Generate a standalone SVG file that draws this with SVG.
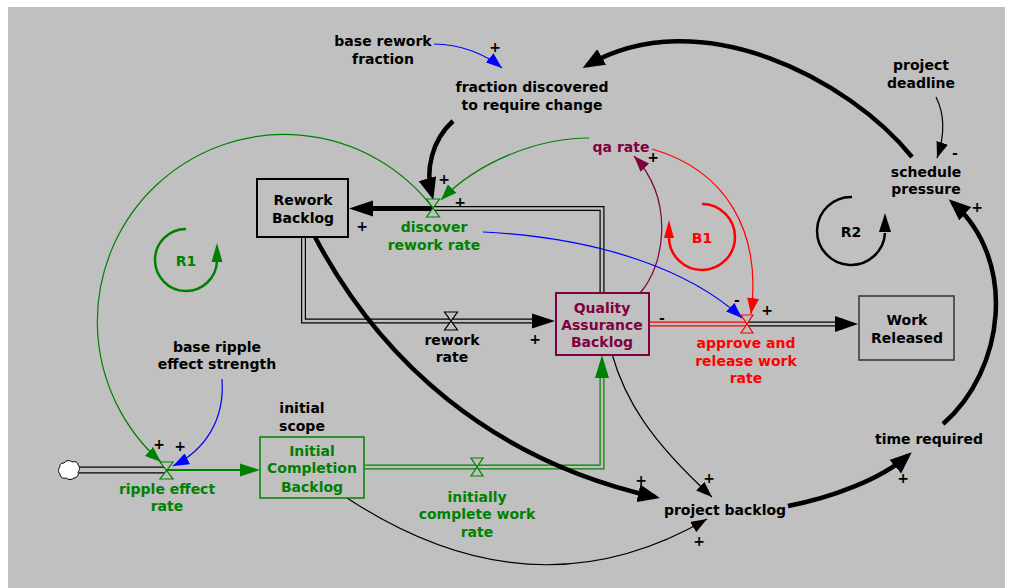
<svg xmlns="http://www.w3.org/2000/svg" width="1018" height="588" viewBox="0 0 1018 588">
<defs>
<style>
text{font-family:"DejaVu Sans",Verdana,sans-serif;font-size:14px;font-weight:bold;text-anchor:middle}
.k{fill:#000}
.g{fill:#008000}
.m{fill:#800040}
.r{fill:#ff0000}
.thin{fill:none;stroke-width:1.2}
.thick{fill:none;stroke:#000;stroke-width:4.5}
.po{fill:none;stroke:#000;stroke-width:5}
.pi{fill:none;stroke:#c0c0c0;stroke-width:2.6}
.valve{fill:#c0c0c0;stroke-width:1.2}
.box{fill:#c0c0c0}
.loop{fill:none;stroke-width:2.5}
</style>
<marker id="aK" markerUnits="userSpaceOnUse" markerWidth="22" markerHeight="18" refX="17" refY="9" orient="auto"><path d="M0,0 L22,9 L0,18 z" fill="#000"/></marker>
<marker id="ak" markerUnits="userSpaceOnUse" markerWidth="16" markerHeight="12" refX="16" refY="6" orient="auto"><path d="M0,0 L16,6 L0,12 z" fill="#000"/></marker>
<marker id="ab" markerUnits="userSpaceOnUse" markerWidth="16" markerHeight="12" refX="16" refY="6" orient="auto"><path d="M0,0 L16,6 L0,12 z" fill="#0000ff"/></marker>
<marker id="ag" markerUnits="userSpaceOnUse" markerWidth="16" markerHeight="12" refX="16" refY="6" orient="auto"><path d="M0,0 L16,6 L0,12 z" fill="#008000"/></marker>
<marker id="ar" markerUnits="userSpaceOnUse" markerWidth="16" markerHeight="12" refX="16" refY="6" orient="auto"><path d="M0,0 L16,6 L0,12 z" fill="#ff0000"/></marker>
<marker id="am" markerUnits="userSpaceOnUse" markerWidth="16" markerHeight="12" refX="16" refY="6" orient="auto"><path d="M0,0 L16,6 L0,12 z" fill="#800040"/></marker>
</defs>
<rect x="8" y="7" width="997" height="581" fill="#c0c0c0"/>

<g id="connectors">
  <!-- pipes -->
  <path class="po" d="M602,293 V208.5 H433"/>
  <path class="pi" d="M602,293 V208.5 H433"/>
  <line x1="433" y1="208.5" x2="372" y2="208.5" stroke="#000" stroke-width="5"/>
  <polygon points="349,208.5 373,200.5 373,216.5" fill="#000"/>

  <path class="po" d="M303.5,237 V321 H533"/>
  <path class="pi" d="M303.5,237 V321 H533"/>
  <polygon points="555,321 532,313.5 532,328.5" fill="#000"/>

  <path class="po" d="M649,324 H747" style="stroke:#ff0000"/>
  <path class="pi" d="M649,324 H747"/>
  <path class="po" d="M747,324 H837"/>
  <path class="pi" d="M747,324 H837"/>
  <polygon points="858,324 835,316 835,332" fill="#000"/>

  <path class="po" d="M79,470 H167" style="stroke-width:7"/>
  <path class="pi" d="M79,470 H167" style="stroke-width:4.4"/>
  <line x1="167" y1="470" x2="242" y2="470" stroke="#008000" stroke-width="2"/>
  <polygon points="260,470 240,463.5 240,476.5" fill="#008000"/>

  <path class="po" d="M365,467 H602 V377" style="stroke:#008000"/>
  <path class="pi" d="M365,467 H602 V377"/>
  <polygon points="602,355 595,378 609,378" fill="#008000"/>

  <!-- causal links -->
  <path class="thin" stroke="#0000ff" d="M434,44 C460,44 485,54 502,68" marker-end="url(#ab)"/>
  <path class="thick" d="M453,121 C432,140 425,170 432,195" marker-end="url(#aK)"/>
  <path class="thick" d="M912,157 C850,80 700,0 587,65.5" marker-end="url(#aK)"/>
  <path class="thin" stroke="#000" d="M936,97 C945,115 945,135 937,158" marker-end="url(#ak)"/>
  <path class="thick" d="M943,424 C1005,370 1018,260 952.5,202.5" marker-end="url(#aK)"/>
  <path class="thick" d="M788,506 C830,498 880,480 908,455.5" marker-end="url(#aK)"/>
  <path class="thick" d="M315,237 C380,360 490,460 655,497" marker-end="url(#aK)"/>
  <path class="thin" stroke="#000" d="M612,354 C625,400 650,440 712,497" marker-end="url(#ak)"/>
  <path class="thin" stroke="#000" d="M347,498 Q533,620 707,519" marker-end="url(#ak)"/>
  <path class="thin" stroke="#800040" d="M640,293 C665,265 675,200 634,156" marker-end="url(#am)"/>
  <path class="thin" stroke="#ff0000" d="M652,149 C725,170 762,230 751,314" marker-end="url(#ar)"/>
  <path class="thin" stroke="#008000" d="M589,138 C540,138 480,160 441,200" marker-end="url(#ag)"/>
  <path class="thin" stroke="#0000ff" d="M483,232 C600,238 690,270 742,318" marker-end="url(#ab)"/>
  <path class="thin" stroke="#008000" d="M433,208 A187,187 0 1 0 161,462" marker-end="url(#ag)"/>
  <path class="thin" stroke="#0000ff" d="M222,379 C225,420 205,450 173,466" marker-end="url(#ab)"/>

  <g id="signs" class="k">
    <text x="495" y="52">+</text>
    <text x="444" y="184">+</text>
    <text x="460" y="207">+</text>
    <text x="362" y="231">+</text>
    <text x="653" y="162">+</text>
    <text x="535" y="344">+</text>
    <text x="662" y="323">-</text>
    <text x="737" y="305">-</text>
    <text x="767" y="315">+</text>
    <text x="955" y="158">-</text>
    <text x="977" y="212">+</text>
    <text x="159" y="449">+</text>
    <text x="180" y="451">+</text>
    <text x="641" y="485">+</text>
    <text x="709" y="483">+</text>
    <text x="699" y="546">+</text>
    <text x="903" y="483">+</text>
  </g>
</g>

<g id="n-base-rework-fraction" class="k"><text x="383" y="46">base rework</text><text x="383" y="64">fraction</text></g>
<g id="n-fraction-discovered" class="k"><text x="532" y="92">fraction discovered</text><text x="532" y="110">to require change</text></g>
<g id="n-project-deadline" class="k"><text x="921" y="70">project</text><text x="921" y="88">deadline</text></g>
<g id="n-schedule-pressure" class="k"><text x="926" y="177">schedule</text><text x="926" y="194">pressure</text></g>

<g id="n-rework-backlog">
  <rect class="box" x="257" y="179" width="91" height="58" stroke="#000" stroke-width="2"/>
  <text class="k" x="303" y="205">Rework</text><text class="k" x="303" y="223">Backlog</text>
</g>

<g id="n-discover-rework-rate">
  <path class="valve" stroke="#008000" d="M426.5,199 H439.5 L426.5,217 H439.5 Z"/>
  <text class="g" x="434" y="232">discover</text><text class="g" x="434" y="250">rework rate</text>
</g>

<g id="n-qa-rate"><text class="m" x="621" y="152">qa rate</text></g>

<g id="n-qa-backlog">
  <rect class="box" x="556" y="293" width="93" height="62" stroke="#800040" stroke-width="2"/>
  <text class="m" x="602" y="313">Quality</text><text class="m" x="602" y="330">Assurance</text><text class="m" x="602" y="347">Backlog</text>
</g>

<g id="n-rework-rate">
  <path class="valve" stroke="#000" d="M444.5,312 H457.5 L444.5,330 H457.5 Z"/>
  <text class="k" x="452" y="345">rework</text><text class="k" x="452" y="362">rate</text>
</g>

<g id="n-approve-rate">
  <path class="valve" stroke="#ff0000" d="M741,315 H753 L741,333 H753 Z"/>
  <text class="r" x="746" y="348">approve and</text><text class="r" x="746" y="366">release work</text><text class="r" x="746" y="383">rate</text>
</g>

<g id="n-work-released">
  <rect class="box" x="859" y="296" width="95" height="64" stroke="#333" stroke-width="1.5"/>
  <text class="k" x="907" y="325">Work</text><text class="k" x="907" y="343">Released</text>
</g>

<g id="n-base-ripple" class="k"><text x="217" y="352">base ripple</text><text x="217" y="369">effect strength</text></g>
<g id="n-initial-scope" class="k"><text x="302" y="413">initial</text><text x="302" y="431">scope</text></g>

<g id="n-source-cloud">
  <path d="M64,463 c2,-3 6,-3 8,-1 c3,-1 6,0 6,3 c2,2 2,5 0,7 c1,3 -1,6 -4,6 c-2,2 -6,2 -8,0 c-3,1 -6,-1 -6,-4 c-2,-2 -2,-5 0,-7 c-1,-2 1,-4 4,-4 z" fill="#fff" stroke="#000" stroke-width="1"/>
</g>

<g id="n-ripple-rate">
  <path class="valve" stroke="#008000" d="M160,462 H173 L160,479 H173 Z"/>
  <text class="g" x="167" y="494">ripple effect</text><text class="g" x="167" y="511">rate</text>
</g>

<g id="n-initial-completion-backlog">
  <rect class="box" x="260" y="437" width="104" height="61" stroke="#008000" stroke-width="1.5"/>
  <text class="g" x="312" y="456">Initial</text><text class="g" x="312" y="473">Completion</text><text class="g" x="312" y="492">Backlog</text>
</g>

<g id="n-initially-complete-rate">
  <path class="valve" stroke="#008000" d="M471,458 H483 L471,476 H483 Z"/>
  <text class="g" x="477" y="502">initially</text><text class="g" x="477" y="519">complete work</text><text class="g" x="477" y="537">rate</text>
</g>

<g id="n-project-backlog"><text class="k" x="725" y="515">project backlog</text></g>
<g id="n-time-required"><text class="k" x="929" y="444">time required</text></g>

<g id="loop-R1">
  <path class="loop" stroke="#008000" d="M186,229 A31,31 0 1 0 217,261"/>
  <polygon points="217,243 211.5,262 222.5,262" fill="#008000"/>
  <text class="g" x="186" y="266">R1</text>
</g>
<g id="loop-R2">
  <path class="loop" stroke="#000" d="M852,197 A34,34 0 1 0 885,233"/>
  <polygon points="885,213 879,232 891,232" fill="#000"/>
  <text class="k" x="851" y="237">R2</text>
</g>
<g id="loop-B1">
  <path class="loop" stroke="#ff0000" d="M702,204 A33,33 0 1 1 669,238"/>
  <polygon points="669,220 664,238 674,238" fill="#ff0000"/>
  <text class="r" x="702" y="243">B1</text>
</g>
</svg>
